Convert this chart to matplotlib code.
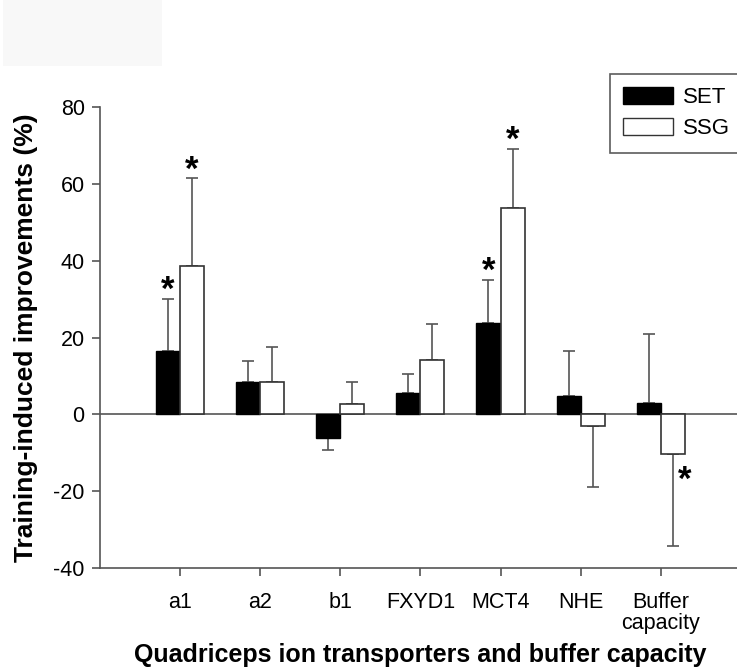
import matplotlib
matplotlib.use("Agg")
import matplotlib.pyplot as plt
import numpy as np
from matplotlib.patches import Rectangle, Patch

categories = ["a1", "a2", "b1", "FXYD1", "MCT4", "NHE", "Buffer\ncapacity"]
set_vals = [16.5, 8.4, -6.1, 5.6, 23.9, 4.9, 2.9]
set_err = [13.5, 5.6, 3.1, 4.8, 11.0, 11.5, 18.1]
ssg_vals = [38.5, 8.4, 2.6, 14.1, 53.6, -3.1, -10.2]
ssg_err = [22.9, 9.0, 5.8, 9.3, 15.5, 15.8, 24.2]
set_sig = [True, False, False, False, True, False, False]
ssg_sig = [True, False, False, False, True, False, True]
yticks = [-40, -20, 0, 20, 40, 60, 80]

plt.rcParams['font.family'] = ['Liberation Sans', 'DejaVu Sans']
plt.rcParams['axes.unicode_minus'] = False

fig = plt.figure(figsize=(7.37, 6.67), dpi=100)
fig.patches.append(Rectangle((3/737, 1 - 66/667), 159/737, 66/667,
                             transform=fig.transFigure, facecolor='#f8f8f8',
                             edgecolor='none', zorder=0))
ax = fig.add_axes([100/737, 1 - 568/667, (737-100)/737, (568-107)/667])

x = np.arange(1, len(categories) + 1)
w = 0.3
lc = '#555555'
xs = x - w/2
xg = x + w/2

ax.bar(xs, set_vals, w, color='black', edgecolor='black', linewidth=1, zorder=3, label='SET')
ax.bar(xg, ssg_vals, w, color='white', edgecolor='#333333', linewidth=1.2, zorder=3, label='SSG')

def err(xp, vals, errs):
    for xi, v, e in zip(xp, vals, errs):
        s = 1 if v >= 0 else -1
        ax.errorbar([xi], [v], yerr=[[0], [e]] if s > 0 else [[e], [0]],
                    fmt='none', ecolor=lc, elinewidth=1.2, capsize=4.5,
                    capthick=1.2, zorder=2)

err(xs, set_vals, set_err)
err(xg, ssg_vals, ssg_err)

star_kw = dict(ha='center', va='center', fontsize=25, fontweight='bold')
for xi, v, e, sig in zip(xs, set_vals, set_err, set_sig):
    if sig:
        ax.text(xi, v + e + 2.2, '*', **star_kw)
for xi, v, e, sig in zip(xg, ssg_vals, ssg_err, ssg_sig):
    if sig:
        if v >= 0:
            ax.text(xi, v + e + 2.2, '*', **star_kw)
        else:
            ax.text(xi + 0.15, v - 7.0, '*', **star_kw)

ax.axhline(0, color=lc, linewidth=1.2, zorder=1)
ax.set_xlim(0, (737-100)/80.1)
ax.set_ylim(-40, 80)
ax.set_yticks(yticks)
ax.set_xticks(x)
ax.set_xticklabels(categories, linespacing=1.0)
ax.tick_params(axis='both', labelsize=15.5, color=lc, width=1.2, length=6, direction='out')
ax.tick_params(axis='x', pad=11)
ax.tick_params(axis='y', pad=5)
for s in ['top', 'right']:
    ax.spines[s].set_visible(False)
for s in ['left', 'bottom']:
    ax.spines[s].set_color(lc)
    ax.spines[s].set_linewidth(1.2)

ax.set_ylabel('Training-induced improvements (%)', fontsize=19, fontweight='bold')
ax.yaxis.set_label_coords(-62/637, 0.5)
ax.set_xlabel('Quadriceps ion transporters and buffer capacity', fontsize=18, fontweight='bold')
ax.xaxis.set_label_coords((420-100)/637, -(643-568)/461)

handles = [Patch(facecolor='black', edgecolor='black'), Patch(facecolor='white', edgecolor='#333333')]
leg = ax.legend(handles, ['SET', 'SSG'], loc='upper left', bbox_to_anchor=(610/737, 1 - 74/667),
                bbox_transform=fig.transFigure, fontsize=16, frameon=True, fancybox=False,
                edgecolor='#333333', handlelength=2.25, handleheight=0.75, handletextpad=0.45,
                borderpad=0.6, labelspacing=0.45, borderaxespad=0)
leg.get_frame().set_linewidth(1.2)

fig.savefig('out.png', dpi=100)
